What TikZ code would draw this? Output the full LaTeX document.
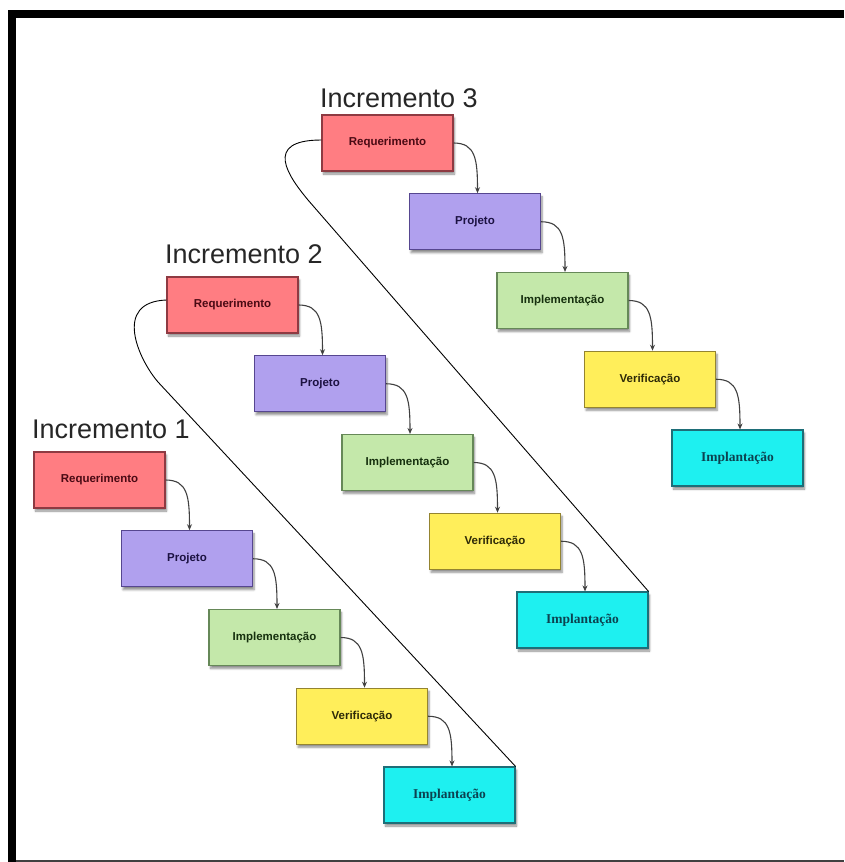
\documentclass[tikz,border=0pt]{standalone}
\usepackage{fontspec}
\setmainfont{Liberation Sans}
\newfontfamily\serifface{Liberation Serif}
\usetikzlibrary{shadows.blur,arrows.meta}

\definecolor{reqfill}{HTML}{FF7D82}
\definecolor{reqline}{HTML}{8E3A42}
\definecolor{reqtext}{HTML}{4A0A14}
\definecolor{projfill}{HTML}{B0A0EE}
\definecolor{projline}{HTML}{564690}
\definecolor{projtext}{HTML}{1C1242}
\definecolor{implfill}{HTML}{C4E8AA}
\definecolor{implline}{HTML}{668858}
\definecolor{impltext}{HTML}{16300E}
\definecolor{verfill}{HTML}{FFEE5A}
\definecolor{verline}{HTML}{948430}
\definecolor{vertext}{HTML}{2E2A08}
\definecolor{dplfill}{HTML}{1EF0F0}
\definecolor{dplline}{HTML}{1E6E78}
\definecolor{dpltext}{HTML}{0C4250}
\definecolor{flowgray}{HTML}{404040}

\begin{document}
\begin{tikzpicture}[x=1pt, y=-1pt,
  phase/.style={rectangle, minimum width=131pt, minimum height=56pt,
    inner sep=0pt, line width=1.1pt,
    font=\bfseries\fontsize{11.5}{13}\selectfont,
    blur shadow={shadow xshift=1.5pt, shadow yshift=-3pt,
      shadow blur steps=6, shadow opacity=45}},
  reqbox/.style={phase, fill=reqfill, draw=reqline, text=reqtext},
  projbox/.style={phase, fill=projfill, draw=projline, text=projtext},
  implbox/.style={phase, fill=implfill, draw=implline, text=impltext},
  verbox/.style={phase, fill=verfill, draw=verline, text=vertext},
  dplbox/.style={phase, fill=dplfill, draw=dplline, text=dpltext,
    font=\serifface\bfseries\fontsize{13.5}{15}\selectfont},
  title/.style={anchor=base west, inner sep=0pt, text=black!85,
    font=\fontsize{27}{30}\selectfont},
  flow/.style={draw=flowgray, line width=1.1pt, -{Stealth[length=6pt,width=5pt]}},
  loopback/.style={draw=black, line width=0.9pt}
]
\useasboundingbox (0,0) rectangle (844,862);

% frame
\fill[black] (8,10) rectangle (844,18);
\fill[black] (8,10) rectangle (16,862);
\draw[black!75, line width=1.2pt] (16,861) -- (844,861);

% the three increments: centre of the first box and baseline of the title
\foreach \k/\x/\y/\b in {1/99.5/480/438, 2/232.5/305/263, 3/387.5/143/107} {
  \node[title] (title\k) at (\x-67.5,\b) {Incremento \k};
  \node[reqbox]  (req\k)  at (\x,\y) {Requerimento};
  \node[projbox] (proj\k) at (\x+87.5,\y+78.75) {Projeto};
  \node[implbox] (impl\k) at (\x+175,\y+157.5) {Implementação};
  \node[verbox]  (ver\k)  at (\x+262.5,\y+236.25) {Verificação};
  \node[dplbox]  (dpl\k)  at (\x+350,\y+315) {Implantação};
  \draw[flow] (req\k.east)  .. controls +(22,0) and +(0,-34) .. ([xshift=2.5pt]proj\k.north);
  \draw[flow] (proj\k.east) .. controls +(22,0) and +(0,-34) .. ([xshift=2.5pt]impl\k.north);
  \draw[flow] (impl\k.east) .. controls +(22,0) and +(0,-34) .. ([xshift=2.5pt]ver\k.north);
  \draw[flow] (ver\k.east)  .. controls +(22,0) and +(0,-34) .. ([xshift=2.5pt]dpl\k.north);
}

% return paths from the last phase to the next increment
\coordinate (turn1) at (158,382);
\coordinate (turn2) at (308,200);
\draw[loopback] (dpl1.north east) -- (turn1)
  .. controls (139,360) and (112,302) .. ([yshift=5pt]req2.west);
\draw[loopback] (dpl2.north east) -- (turn2)
  .. controls (289,177) and (262,140) .. ([yshift=3pt]req3.west);
\end{tikzpicture}
\end{document}
